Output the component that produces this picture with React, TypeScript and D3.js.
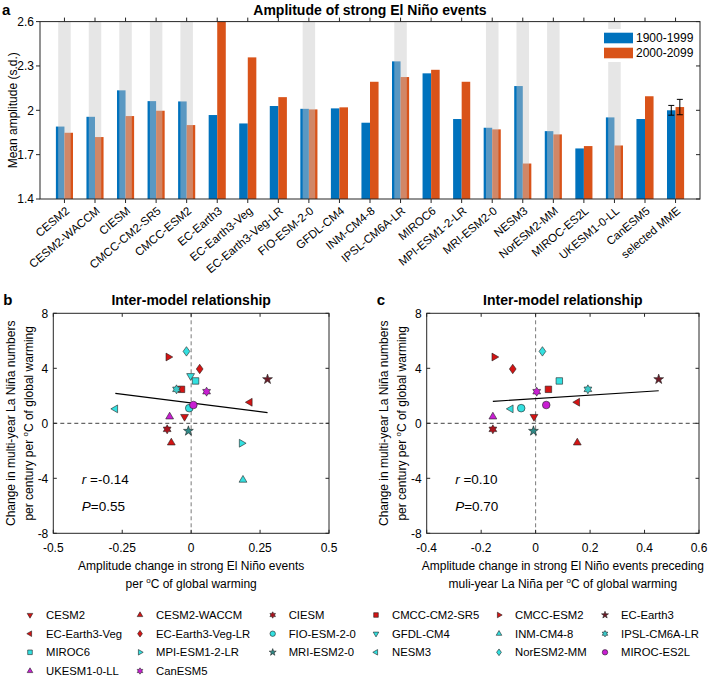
import React from 'react'
import * as d3 from 'd3'

// panel a: amplitude of strong El Nino events
const categories = ['CESM2', 'CESM2-WACCM', 'CIESM', 'CMCC-CM2-SR5', 'CMCC-ESM2', 'EC-Earth3', 'EC-Earth3-Veg',
    'EC-Earth3-Veg-LR', 'FIO-ESM-2-0', 'GFDL-CM4', 'INM-CM4-8', 'IPSL-CM6A-LR', 'MIROC6', 'MPI-ESM1-2-LR',
    'MRI-ESM2-0', 'NESM3', 'NorESM2-MM', 'MIROC-ES2L', 'UKESM1-0-LL', 'CanESM5', 'selected MME']
const amp1900 = [1.89, 1.956, 2.135, 2.062, 2.06, 1.968, 1.911, 2.029, 2.01, 2.013, 1.916, 2.331, 2.25, 1.941,
    1.882, 2.164, 1.859, 1.742, 1.952, 1.941, 2.0]
const amp2000 = [1.848, 1.819, 1.961, 1.997, 1.9, 2.62, 2.358, 2.089, 2.006, 2.02, 2.193, 2.225, 2.274, 2.193,
    1.871, 1.64, 1.837, 1.758, 1.762, 2.095, 2.022]
const mmeErr = [0.033, 0.052]
const shadedModels = ['CESM2', 'CESM2-WACCM', 'CIESM', 'CMCC-CM2-SR5', 'CMCC-ESM2', 'FIO-ESM-2-0',
    'IPSL-CM6A-LR', 'MRI-ESM2-0', 'NESM3', 'NorESM2-MM', 'UKESM1-0-LL']
const yTicksA = [1.4, 1.7, 2, 2.3, 2.6]
const periods = ['1900-1999', '2000-2099']

// panels b, c: inter-model relationship
const models = ['CESM2', 'CESM2-WACCM', 'CIESM', 'CMCC-CM2-SR5', 'CMCC-ESM2', 'EC-Earth3', 'EC-Earth3-Veg',
    'EC-Earth3-Veg-LR', 'FIO-ESM-2-0', 'GFDL-CM4', 'INM-CM4-8', 'IPSL-CM6A-LR', 'MIROC6', 'MPI-ESM1-2-LR',
    'MRI-ESM2-0', 'NESM3', 'NorESM2-MM', 'MIROC-ES2L', 'UKESM1-0-LL', 'CanESM5']
const markerShapes = ['v', '^', 'h', 's', '>', 'p', '<', 'd', 'o', 'v', '^', 'h', 's', '>', 'p', '<', 'd', 'o', '^', 'h']
const markerColors = ['#d41414', '#d41414', '#a8141e', '#d41414', '#d41414', '#6e1a26', '#d41414', '#d41414',
    '#33e0e0', '#33e0e0', '#33e0e0', '#3cc8c8', '#33e0e0', '#33e0e0', '#2e8b88', '#33e0e0', '#33e0e0',
    '#c81ed2', '#c81ed2', '#c81ed2']
const laNinaChange = [0.48, -1.41, -0.44, 2.47, 4.82, 3.2, 1.53, 3.95, 1.1, 3.45, -4.12, 2.47, 3.08, -1.45,
    -0.56, 1.05, 5.23, 1.33, 0.48, 2.3]
const ampChangeB = [-0.024, -0.072, -0.087, -0.035, -0.083, 0.277, 0.213, 0.031, -0.007, -0.002, 0.188, -0.053,
    0.016, 0.183, -0.01, -0.275, -0.017, 0.008, -0.078, 0.056]
const ampChangeC = [-0.006, 0.153, -0.157, 0.047, -0.152, 0.452, 0.153, -0.084, -0.053, null, null, 0.192,
    0.087, null, -0.008, -0.091, 0.025, 0.039, -0.157, 0.004]
const xTicksB = [-0.5, -0.25, 0, 0.25, 0.5]
const xTicksC = [-0.4, -0.2, 0, 0.2, 0.4, 0.6]
const yTicksBC = [-8, -4, 0, 4, 8]

const FONT = 'Liberation Sans, Arial, sans-serif'
const BLUE = '#0072bd'
const ORANGE = '#d95319'

const line = d3.line()

function markerPath(shape: string, s: number) {
    const poly = (pts: [number, number][]) => line(pts) + 'Z'
    const star = (n: number, ro: number, ri: number) => {
        const pts: [number, number][] = []
        for (let i = 0; i < 2 * n; i++) {
            const a = -Math.PI / 2 + (i * Math.PI) / n
            const r = i % 2 === 0 ? ro : ri
            pts.push([r * Math.cos(a), r * Math.sin(a)])
        }
        return poly(pts)
    }
    switch (shape) {
        case '^': return poly([[0, -s], [0.87 * s, 0.5 * s], [-0.87 * s, 0.5 * s]])
        case 'v': return poly([[0, s], [0.87 * s, -0.5 * s], [-0.87 * s, -0.5 * s]])
        case '>': return poly([[s, 0], [-0.5 * s, -0.87 * s], [-0.5 * s, 0.87 * s]])
        case '<': return poly([[-s, 0], [0.5 * s, -0.87 * s], [0.5 * s, 0.87 * s]])
        case 's': return poly([[-0.72 * s, -0.72 * s], [0.72 * s, -0.72 * s], [0.72 * s, 0.72 * s], [-0.72 * s, 0.72 * s]])
        case 'd': return poly([[0, -1.05 * s], [0.75 * s, 0], [0, 1.05 * s], [-0.75 * s, 0]])
        case 'p': return star(5, 1.15 * s, 0.45 * s)
        case 'h': return star(6, 1.0 * s, 0.58 * s)
        default: {
            const r = 0.85 * s
            return `M${-r},0A${r},${r},0,1,0,${r},0A${r},${r},0,1,0,${-r},0Z`
        }
    }
}

function Marker({ i, x, y, s }: { i: number; x: number; y: number; s: number }) {
    return (
        <path d={markerPath(markerShapes[i], s)} transform={`translate(${x},${y})`}
            fill={markerColors[i]} stroke="#222" strokeWidth={0.6} />
    )
}

function PanelA() {
    const L = 40, R = 700, T = 21.6, B = 199
    const x = d3.scaleLinear().domain([0.2, 21.8]).range([L, R])
    const y = d3.scaleLinear().domain([1.4, 2.6]).range([B, T])
    const step = x(2) - x(1)
    const bw = 0.28 * step
    const gw = 0.41 * step
    return (
        <g>
            <defs>
                <clipPath id="clipA"><rect x={L} y={T} width={R - L} height={B - T} /></clipPath>
            </defs>
            <g clipPath="url(#clipA)">
                {categories.map((c, i) => {
                    const xc = x(i + 1)
                    return (
                        <g key={c}>
                            <rect x={xc - bw} y={y(amp1900[i])} width={bw} height={B - y(amp1900[i])} fill={BLUE} />
                            <rect x={xc} y={y(amp2000[i])} width={bw} height={B - y(amp2000[i])} fill={ORANGE} />
                        </g>
                    )
                })}
                {categories.map((c, i) =>
                    shadedModels.includes(c) ? (
                        <rect key={c} x={x(i + 1) - gw / 2} y={T} width={gw} height={B - T} fill="#c8c8c8" opacity={0.45} />
                    ) : null
                )}
            </g>
            {/* error bars on the multi-model mean */}
            {[amp1900, amp2000].map((arr, k) => {
                const i = categories.length - 1
                const xc = x(i + 1) + (k === 0 ? -bw / 2 : bw / 2)
                const y1 = y(arr[i] - mmeErr[k]), y2 = y(arr[i] + mmeErr[k])
                return (
                    <g key={k} stroke="#000" strokeWidth={1}>
                        <line x1={xc} x2={xc} y1={y1} y2={y2} />
                        <line x1={xc - 3} x2={xc + 3} y1={y1} y2={y1} />
                        <line x1={xc - 3} x2={xc + 3} y1={y2} y2={y2} />
                    </g>
                )
            })}
            {/* legend */}
            <rect x={601} y={29} width={98} height={33} fill="#fff" />
            {periods.map((p, k) => (
                <g key={p}>
                    <rect x={604} y={32.7 + k * 15} width={29} height={10.6} fill={k === 0 ? BLUE : ORANGE} />
                    <text x={636} y={38 + k * 15} dy="0.35em" fontSize={12} fontFamily={FONT}>{p}</text>
                </g>
            ))}
            {/* axes frame */}
            <rect x={L} y={T} width={R - L} height={B - T} fill="none" stroke="#262626" strokeWidth={1} />
            {yTicksA.map(t => (
                <g key={t}>
                    <line x1={L - 4} x2={L} y1={y(t)} y2={y(t)} stroke="#262626" />
                    <line x1={R - 4} x2={R} y1={y(t)} y2={y(t)} stroke="#262626" />
                    <text x={L - 6} y={y(t)} dy="0.35em" textAnchor="end" fontSize={12} fontFamily={FONT}>{String(t)}</text>
                </g>
            ))}
            {categories.map((c, i) => (
                <g key={c}>
                    <line x1={x(i + 1)} x2={x(i + 1)} y1={B} y2={B + 4} stroke="#262626" />
                    <line x1={x(i + 1)} x2={x(i + 1)} y1={T} y2={T - 4} stroke="#262626" />
                    <text transform={`translate(${x(i + 1) + 3},${B + 10}) rotate(-40)`} textAnchor="end" dy="0.35em"
                        fontSize={11.5} fontFamily={FONT}>{c}</text>
                </g>
            ))}
            <text transform={`translate(13,${(T + B) / 2}) rotate(-90)`} textAnchor="middle" dy="0.35em"
                fontSize={12} fontFamily={FONT}>Mean amplitude (s.d.)</text>
            <text x={370} y={15} textAnchor="middle" fontSize={14} fontWeight="bold" fontFamily={FONT}>
                Amplitude of strong El Niño events
            </text>
            <text x={2} y={15} fontSize={15} fontWeight="bold" fontFamily={FONT}>a</text>
        </g>
    )
}

function Scatter({ L, R, letter, xs, xTicks, xLabel1, xLabel2, r, p }:
    { L: number; R: number; letter: string; xs: (number | null)[]; xTicks: number[]; xLabel1: string; xLabel2: React.ReactNode; r: string; p: string }) {
    const T = 313.3, B = 533.3
    const x = d3.scaleLinear().domain([xTicks[0], xTicks[xTicks.length - 1]]).range([L, R])
    const y = d3.scaleLinear().domain([-8, 8]).range([B, T])
    const idx = models.map((_, i) => i).filter(i => xs[i] !== null)
    const px = idx.map(i => xs[i] as number)
    const py = idx.map(i => laNinaChange[i])
    const mx = d3.mean(px) as number, my = d3.mean(py) as number
    const slope = d3.sum(px, (v, k) => (v - mx) * (py[k] - my)) / d3.sum(px, v => (v - mx) ** 2)
    const [x0, x1] = d3.extent(px) as [number, number]
    const fit = line([[x(x0), y(my + slope * (x0 - mx))], [x(x1), y(my + slope * (x1 - mx))]])
    const cx = (L + R) / 2
    return (
        <g fontFamily={FONT}>
            <line x1={x(0)} x2={x(0)} y1={T} y2={B} stroke="#7a7a7a" strokeDasharray="4,3" />
            <line x1={L} x2={R} y1={y(0)} y2={y(0)} stroke="#404040" strokeDasharray="4,3" />
            <path d={fit as string} stroke="#000" strokeWidth={1.2} fill="none" />
            {idx.map(i => (
                <Marker key={i} i={i} x={x(xs[i] as number)} y={y(laNinaChange[i])} s={4.5} />
            ))}
            <rect x={L} y={T} width={R - L} height={B - T} fill="none" stroke="#262626" />
            {xTicks.map(t => (
                <g key={t}>
                    <line x1={x(t)} x2={x(t)} y1={B} y2={B - 3.5} stroke="#262626" />
                    <line x1={x(t)} x2={x(t)} y1={T} y2={T + 3.5} stroke="#262626" />
                    <text x={x(t)} y={B + 19} textAnchor="middle" fontSize={12}>{String(t)}</text>
                </g>
            ))}
            {yTicksBC.map(t => (
                <g key={t}>
                    <line x1={L} x2={L + 3.5} y1={y(t)} y2={y(t)} stroke="#262626" />
                    <line x1={R} x2={R - 3.5} y1={y(t)} y2={y(t)} stroke="#262626" />
                    <text x={L - 5} y={y(t)} dy="0.35em" textAnchor="end" fontSize={12}>{String(t)}</text>
                </g>
            ))}
            <text x={cx} y={B + 37} textAnchor="middle" fontSize={12}>{xLabel1}</text>
            <text x={cx} y={B + 55} textAnchor="middle" fontSize={12}>{xLabel2}</text>
            <text transform={`translate(${L - 43},${(T + B) / 2}) rotate(-90)`} textAnchor="middle" dy="0.35em" fontSize={12}>
                Change in multi-year La Niña numbers
            </text>
            <text transform={`translate(${L - 25},${(T + B) / 2}) rotate(-90)`} textAnchor="middle" dy="0.35em" fontSize={12}>
                <tspan>per century per </tspan><tspan dy={-5} fontSize={8}>o</tspan><tspan dy={5}>C of global warming</tspan>
            </text>
            <text x={cx} y={305} textAnchor="middle" fontSize={14} fontWeight="bold">Inter-model relationship</text>
            <text x={L - 50} y={305} fontSize={15} fontWeight="bold">{letter}</text>
            <text x={L + 28.5} y={484} fontSize={13.5}><tspan fontStyle="italic">r</tspan> ={r}</text>
            <text x={L + 28.5} y={511} fontSize={13.5}><tspan fontStyle="italic">P</tspan>={p}</text>
        </g>
    )
}

function Legend() {
    const colX = [30, 140, 272.7, 376, 499, 605]
    const rowY = [615, 633.7, 652.3, 671]
    return (
        <g fontFamily={FONT}>
            {models.map((m, i) => {
                const cx = colX[i % 6], cy = rowY[Math.floor(i / 6)]
                return (
                    <g key={m}>
                        <Marker i={i} x={cx} y={cy} s={3.2} />
                        <text x={cx + 16} y={cy} dy="0.35em" fontSize={11.3}>{m}</text>
                    </g>
                )
            })}
        </g>
    )
}

export default function App() {
    const sup = (pre: string, post: string) => (
        <>
            <tspan>{pre}</tspan><tspan dy={-5} fontSize={8}>o</tspan><tspan dy={5}>{post}</tspan>
        </>
    )
    return (
        <svg width={708} height={677} style={{ position: 'absolute', left: 0, top: 0, background: '#fff' }}>
            <PanelA />
            <Scatter L={53.3} R={329} letter="b" xs={ampChangeB} xTicks={xTicksB}
                xLabel1="Amplitude change in strong El Niño events"
                xLabel2={sup('per ', 'C of global warming')} r="-0.14" p="0.55" />
            <Scatter L={426.7} R={699} letter="c" xs={ampChangeC} xTicks={xTicksC}
                xLabel1="Amplitude change in strong El Niño events preceding"
                xLabel2={sup('muli-year La Niña per ', 'C of global warming')} r="0.10" p="0.70" />
            <Legend />
        </svg>
    )
}
